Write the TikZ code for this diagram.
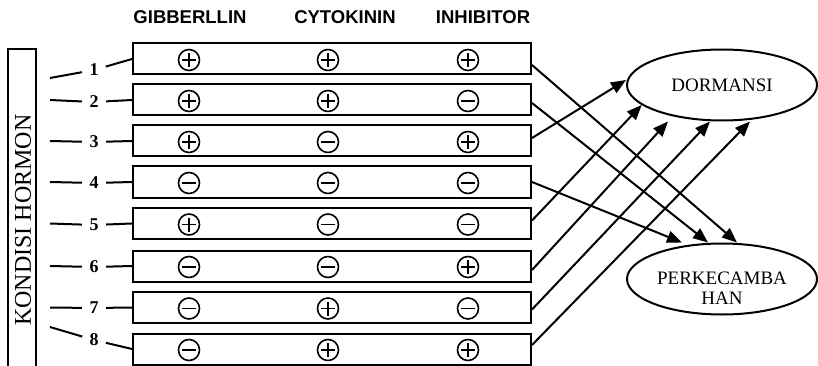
\documentclass[tikz,border=0pt]{standalone}
\usepackage{fontspec}
\setmainfont{Liberation Serif}
\setsansfont{Liberation Sans}
\usetikzlibrary{shapes.geometric,arrows.meta}
\tikzset{
  rowbox/.style={draw,line width=2pt,minimum width=398pt,minimum height=31pt,inner sep=0pt},
  sgn/.style={circle,draw,line width=1.6pt,minimum size=21pt,inner sep=0pt},
  sgnp/.style={sgn,path picture={\draw[line width=1.6pt]
     ([xshift=3.5pt]path picture bounding box.west) -- ([xshift=-3.5pt]path picture bounding box.east)
     ([yshift=-3.5pt]path picture bounding box.north) -- ([yshift=3.5pt]path picture bounding box.south);}},
  sgnm/.style={sgn,path picture={\draw[line width=1.6pt]
     ([xshift=3.5pt]path picture bounding box.west) -- ([xshift=-3.5pt]path picture bounding box.east);}},
  head/.style={font=\sffamily\bfseries\fontsize{18.5}{21}\selectfont,inner sep=0pt},
  num/.style={circle,inner sep=0pt,minimum size=24pt,font=\bfseries\fontsize{18}{20}\selectfont},
  conn/.style={line width=2pt},
  arr/.style={line width=2pt,-{Triangle[length=15pt,width=12pt]}},
  elps/.style={ellipse,draw,line width=2pt,minimum width=190pt,minimum height=71pt,inner sep=0pt},
  etext/.style={font=\fontsize{19}{20.5}\selectfont,align=center,inner sep=0pt}
}
\begin{document}
\begin{tikzpicture}[x=1pt,y=-1pt]
\useasboundingbox (0,0) rectangle (818,366);
% headers
\node[head] (h1) at (190,17) {GIBBERLLIN};
\node[head] (h2) at (345,17) {CYTOKININ};
\node[head] (h3) at (483,17) {INHIBITOR};
% side box
\node[draw,line width=2pt,minimum width=28pt,minimum height=326pt,inner sep=0pt] (k) at (22,212) {};
\node[rotate=90,font=\fontsize{24}{26}\selectfont,inner sep=0pt] (kt) at (23,220) {KONDISI HORMON};
% rows
\foreach \i/\y/\a/\b/\c/\ny/\ly in {1/59/p/p/p/70/78, 2/100/p/p/m/102/100, 3/141/p/m/p/142/141, 4/182/m/m/m/183/182, 5/223.5/p/m/m/225/223.5, 6/266/m/m/p/267/266, 7/307.5/m/p/m/308/307.5, 8/349/m/p/p/340/327}{
  \node[rowbox] (b\i) at (332,\y) {};
  \node[sgn\a] (s\i a) at (189,\y+1) {};
  \node[sgn\b] (s\i b) at (328,\y+1) {};
  \node[sgn\c] (s\i c) at (468,\y+1) {};
  \node[num] (n\i) at (94,\ny) {\i};
  \coordinate (l\i) at (50,\ly);
  \draw[conn] (l\i) -- (n\i);
  \draw[conn] (n\i) -- (b\i.west);
}
% ellipses
\node[elps] (d) at (722,85) {};
\node[etext] (dt) at (722,85) {DORMANSI};
\node[elps] (p) at (722,279) {};
\node[etext] (pt) at (722,288) {PERKECAMBA\\HAN};
% arrows
\draw[arr] ([yshift=-6pt]b1.east) -- ([xshift=15pt]p.north);
\draw[arr] ([yshift=-3pt]b2.east) -- ([xshift=-14pt]p.north);
\draw[arr] (b4.east) -- ([xshift=-40pt]p.north);
\draw[arr] ([yshift=3pt]b3.east) -- ([yshift=5pt]d.west);
\draw[arr] ([yshift=3pt]b5.east) -- (d.194);
\draw[arr] ([yshift=-4pt]b6.east) -- ([xshift=-54pt]d.south);
\draw[arr] ([yshift=-2pt]b7.east) -- ([xshift=-12pt]d.south);
\draw[arr] ([yshift=4pt]b8.east) -- ([xshift=28pt]d.south);
\end{tikzpicture}
\end{document}
